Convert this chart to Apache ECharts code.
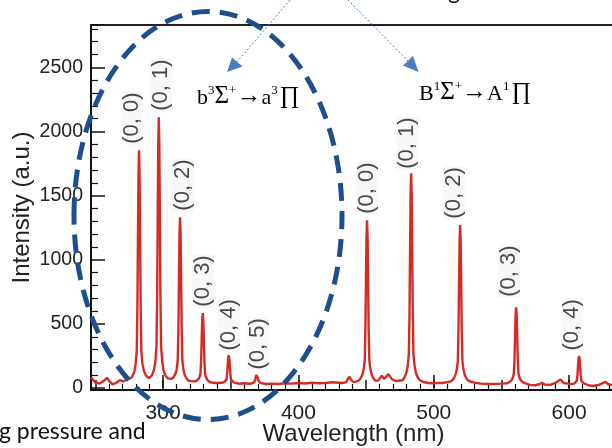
<!DOCTYPE html>
<html>
<head>
<meta charset="utf-8">
<script src="https://cdn.jsdelivr.net/npm/echarts@6/dist/echarts.min.js"></script>
<style>
html,body{margin:0;padding:0;background:#fff;}
#chart{width:612px;height:448px;}
</style>
</head>
<body>
<div id="chart"></div>
<script>
// ---- data ----
const wavelengths = [
  246.7,248,250,253,256,258.5,260.5,262.5,265,268,270.5,273,
  275.7,277.2,278.7,279.7,280.5,281.0,281.4,281.8,282.2,282.6,283.0,283.4,283.9,284.7,285.7,287.2,
  289.5,
  291.8,293.3,294.3,295.1,295.6,296.0,296.4,296.8,297.2,297.6,298.0,298.5,299.3,300.3,301.8,303.3,
  304.7,
  306.0,307.5,309.0,310.0,310.8,311.3,311.7,312.1,312.5,312.9,313.3,313.7,314.2,315.0,316.0,317.5,319.0,
  321,
  322.8,324.3,325.8,326.8,327.6,328.1,328.5,328.9,329.3,329.7,330.1,330.5,331.0,331.8,332.8,334.3,335.8,
  339,
  343.5,345.0,346.0,346.8,347.3,347.7,348.1,348.5,348.9,349.3,349.7,350.2,351.0,352.0,353.5,
  356,360,364,
  366.7,367.5,368.0,368.4,368.8,369.2,369.6,370.0,370.4,370.9,371.7,
  376,380,385,390,395,400,405,410,415,420,425,430,433,435,437.5,440,442,
  444.2,445.7,447.2,448.2,449.0,449.5,449.9,450.3,450.7,451.1,451.5,451.9,452.4,453.2,454.2,455.7,457.2,
  459,461.6,463.5,466.5,469,472,
  476.8,478.3,479.8,480.8,481.6,482.1,482.5,482.9,483.3,483.7,484.1,484.5,485.0,485.8,486.8,488.3,489.8,
  493,497,502,506,510,
  513.0,514.5,516.0,517.0,517.8,518.3,518.7,519.1,519.5,519.9,520.3,520.7,521.2,522.0,523.0,524.5,526.0,
  530,535,540,545,550,
  554.4,555.9,557.4,558.4,559.2,559.7,560.1,560.5,560.9,561.3,561.7,562.1,562.6,563.4,564.4,565.9,567.4,
  571,575,578,580,582,586,590,593.6,596,599,
  602.4,603.9,604.9,605.7,606.2,606.6,607.0,607.4,607.8,608.2,608.6,609.1,609.9,610.9,612.4,
  615,618,622,626.9,629,631.6,634.7
];
const intensities = [
  85,70,42,36,55,80,50,30,38,62,52,65,
  75,90,126,190,290,635,1180,1671,1853,1671,1180,635,290,190,138,99,
  78,
  99,145,211,326,720,1342,1903,2110,1903,1342,720,326,211,139,97,76,
  72,
  72,81,108,145,217,463,852,1202,1332,1202,852,463,217,145,100,72,57,
  54,
  52,55,66,82,112,216,381,529,584,529,381,216,112,82,62,49,43,
  40,
  41,46,54,66,108,175,235,257,235,175,108,66,54,46,41,
  34,38,34,
  41,45,59,82,102,109,102,82,59,45,41,
  32,35,32,38,35,40,36,42,38,40,45,42,40,45,88,50,48,
  56,71,102,146,216,457,838,1181,1308,1181,838,457,216,146,102,71,56,
  60,96,70,109,70,55,
  61,81,120,177,267,578,1069,1510,1674,1510,1069,578,267,177,120,81,61,
  45,38,40,40,45,
  55,70,100,143,210,445,814,1147,1270,1147,814,445,210,143,100,70,55,
  42,35,32,32,35,
  38,46,60,81,114,228,408,570,630,570,408,228,114,81,60,46,38,
  25,22,30,42,28,25,40,68,40,35,
  31,36,44,57,99,167,228,250,228,167,99,57,44,36,31,
  20,16,25,49,30,23,25
];
const peakWavelengths = [282.2, 296.8, 312.5, 329.3, 348.5, 369.2, 450.7, 483.3, 519.5, 560.9, 607.4];
const peakIntensities = [1853, 2110, 1332, 584, 257, 109, 1308, 1674, 1270, 630, 250];
const peakLabels = ['(0, 0)','(0, 1)','(0, 2)','(0, 3)','(0, 4)','(0, 5)','(0, 0)','(0, 1)','(0, 2)','(0, 3)','(0, 4)'];
const xTickLabels = [300, 400, 500, 600];
const yTickLabels = [0, 500, 1000, 1500, 2000, 2500];
const systemNames = [
  '{m|b}{s|3}{g|\u03A3}{s|+}{a|\u2192}{m|a}{s|3}{p|\u220F}',
  '{m|B}{s|1}{g|\u03A3}{s|+}{a|\u2192}{m|A}{s|1}{p|\u220F}'
];
const xTitle = 'Wavelength (nm)';
const yTitle = 'Intensity (a.u.)';
const captionFragment = 'g pressure and';

// ---- layout (label nudges: [gap above peak, horizontal shift]) ----
const labelNudges = [[5,-7],[5,2],[5,3],[5,0],[3,0],[3,1],[5,0],[3,-4],[5,-6],[9,-7],[4,-7]];

const spectrum = wavelengths.map((w, i) => [w, intensities[i]]);
const peaks = peakWavelengths.map((w, i) => ({
  value: [w, peakIntensities[i]],
  label: { offset: [labelNudges[i][0], labelNudges[i][1]] }
}));

const sans = '"Liberation Sans", Arial, sans-serif';
const serif = '"Liberation Serif", "Times New Roman", serif';
const XMIN = 246.7, XMAX = 634.7;

const richSerif = {
  m: { fontFamily: serif, fontSize: 22, color: '#222', verticalAlign: 'bottom' },
  g: { fontFamily: serif, fontSize: 25, color: '#222', verticalAlign: 'bottom' },
  p: { fontFamily: serif, fontSize: 24, color: '#222', verticalAlign: 'bottom', padding: [0, 0, 0, 2] },
  a: { fontFamily: serif, fontSize: 25, color: '#222', verticalAlign: 'bottom' },
  s: { fontFamily: serif, fontSize: 13, color: '#222', verticalAlign: 'top' }
};

const chart = echarts.init(document.getElementById('chart'), null, {renderer: 'canvas'});
chart.setOption({
  animation: false,
  backgroundColor: '#ffffff',
  grid: { left: 91, right: -4, top: 25, bottom: 58, containLabel: false, outerBoundsMode: 'none' },
  xAxis: [
    {
      type: 'value', min: XMIN, max: XMAX, position: 'bottom',
      splitNumber: 8, minInterval: 50, maxInterval: 50,
      name: xTitle, nameLocation: 'middle', nameGap: 32, nameMoveOverlap: false,
      nameTextStyle: { fontFamily: sans, fontSize: 24, color: '#222' },
      axisLine: { show: true, onZero: false, lineStyle: { color: '#111', width: 2 } },
      axisTick: { show: true, inside: true, length: 10, lineStyle: { color: '#111', width: 1.5 } },
      minorTick: { show: true, splitNumber: 5, length: 6, lineStyle: { color: '#111', width: 1.2 } },
      axisLabel: { margin: 13, fontFamily: sans, fontSize: 21, color: '#222',
        formatter: v => xTickLabels.includes(Math.round(v * 1000) / 1000) ? String(v) : '' },
      splitLine: { show: false }
    },
    {
      type: 'value', min: XMIN, max: XMAX, position: 'bottom',
      splitNumber: 4, minInterval: 100, maxInterval: 100,
      axisLine: { show: false },
      axisTick: { show: true, inside: true, length: 13, lineStyle: { color: '#111', width: 1.5 } },
      axisLabel: { show: false },
      splitLine: { show: false }
    },
    {
      type: 'value', min: XMIN, max: XMAX, position: 'top',
      axisLine: { show: true, onZero: false, lineStyle: { color: '#222', width: 2 } },
      axisTick: { show: false }, axisLabel: { show: false }, splitLine: { show: false }
    }
  ],
  yAxis: [
    {
      type: 'value', min: -15, max: 2830, position: 'left',
      splitNumber: 6, minInterval: 500, maxInterval: 500,
      name: yTitle, nameLocation: 'middle', nameGap: 57, nameRotate: 90, nameMoveOverlap: false,
      nameTextStyle: { fontFamily: sans, fontSize: 24, color: '#222' },
      axisLine: { show: true, onZero: false, lineStyle: { color: '#111', width: 2 } },
      axisTick: { show: true, inside: true, length: 14, lineStyle: { color: '#111', width: 1.5 } },
      minorTick: { show: true, splitNumber: 5, length: 7, lineStyle: { color: '#111', width: 1.2 } },
      axisLabel: { margin: 8, fontFamily: sans, fontSize: 19.5, color: '#222',
        formatter: v => yTickLabels.includes(Math.round(v)) && Math.abs(v - Math.round(v)) < 1e-6 ? String(v) : '' },
      splitLine: { show: false }
    }
  ],
  series: [
    {
      type: 'line', xAxisIndex: 0, yAxisIndex: 0,
      data: spectrum, symbol: 'none', smooth: false,
      lineStyle: { color: '#d62b24', width: 2.4 },
      z: 3
    },
    {
      type: 'scatter', xAxisIndex: 0, yAxisIndex: 0,
      data: peaks, symbolSize: 1,
      itemStyle: { color: 'rgba(0,0,0,0)' },
      label: {
        show: true, position: 'top', distance: 0, rotate: 90,
        align: 'left', verticalAlign: 'middle',
        fontFamily: sans, fontSize: 22, color: '#1a1a1a',
        backgroundColor: 'rgba(0,0,0,0.035)', padding: [0, 1],
        formatter: p => peakLabels[p.dataIndex]
      },
      z: 4
    }
  ],
  graphic: [
    { type: 'text', left: 197, top: 84, z: 50,
      style: { text: systemNames[0], rich: richSerif } },
    { type: 'text', left: 419, top: 80, z: 50,
      style: { text: systemNames[1], rich: richSerif } },
    { type: 'line', z: 60, shape: { x1: 290, y1: 0, x2: 236, y2: 63 },
      style: { stroke: '#4a7dc4', lineWidth: 1, lineDash: [2, 2] } },
    { type: 'polygon', z: 60, shape: { points: [[227, 72], [232, 57.5], [242.5, 66.5]] },
      style: { fill: '#4a7dc4' } },
    { type: 'line', z: 60, shape: { x1: 348, y1: 0, x2: 409, y2: 62 },
      style: { stroke: '#4a7dc4', lineWidth: 1, lineDash: [2, 2] } },
    { type: 'polygon', z: 60, shape: { points: [[418.5, 72], [403, 65.5], [413, 56]] },
      style: { fill: '#4a7dc4' } },
    { type: 'ellipse', z: 70, shape: { cx: 208, cy: 215.5, rx: 134, ry: 204 },
      style: { fill: null, stroke: '#1f4e8c', lineWidth: 5, lineDash: [18, 10] } },
    { type: 'text', left: -1, top: 420, z: 50,
      style: { text: captionFragment, font: '23px Lato, "Open Sans", sans-serif', fill: '#111' } },
    { type: 'text', left: 448, top: -20, z: 50,
      style: { text: 'g', font: '23px Lato, "Open Sans", sans-serif', fill: '#111' } }
  ]
});
</script>
</body>
</html>
